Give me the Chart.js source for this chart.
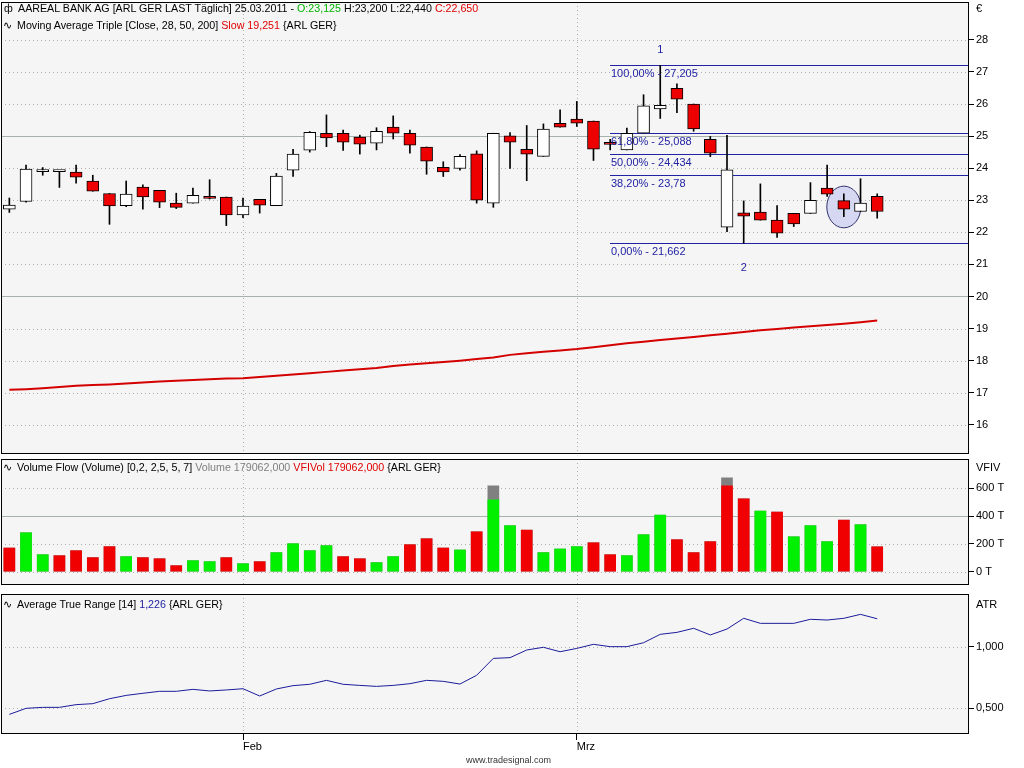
<!DOCTYPE html>
<html>
<head>
<meta charset="utf-8">
<script src="https://cdn.jsdelivr.net/npm/chart.js@4.4.1/dist/chart.umd.min.js"></script>
<style>
  body { margin: 0; background: #fff; width: 1024px; height: 768px; overflow: hidden; position: relative;
         font-family: "Liberation Sans", Arial, sans-serif; font-size: 11px; color: #000; }
  .pane { position: absolute; left: 0; width: 1024px; }
  .hdr { position: absolute; white-space: nowrap; line-height: 13px; font-size: 10.7px; }
  .unit { position: absolute; left: 976px; line-height: 13px; }
  .ic { display: inline-block; width: 14px; }
</style>
</head>
<body>
<div class="pane" style="top:2px;height:452px"><canvas id="priceChart" width="1024" height="452"></canvas></div>
<div class="pane" style="top:459px;height:126px"><canvas id="volChart" width="1024" height="126"></canvas></div>
<div class="pane" style="top:594px;height:174px"><canvas id="atrChart" width="1024" height="174"></canvas></div>

<div class="hdr" style="top:2px;left:4px"><span class="ic">ф</span>AAREAL BANK AG [ARL GER LAST Täglich] 25.03.2011 - <span style="color:#00b400">O:23,125</span> H:23,200 L:22,440 <span style="color:#e00000">C:22,650</span></div>
<div class="hdr" style="top:19px;left:3px"><span class="ic">∿</span>Moving Average Triple [Close, 28, 50, 200] <span style="color:#e00000">Slow 19,251</span> {ARL GER}</div>
<div class="unit" style="top:2px">€</div>

<div class="hdr" style="top:461px;left:3px"><span class="ic">∿</span>Volume Flow (Volume) [0,2, 2,5, 5, 7] <span style="color:#808080">Volume 179062,000</span> <span style="color:#e00000">VFIVol 179062,000</span> {ARL GER}</div>
<div class="unit" style="top:461px">VFIV</div>

<div class="hdr" style="top:598px;left:3px"><span class="ic">∿</span>Average True Range [14] <span style="color:#1c1ca0">1,226</span> {ARL GER}</div>
<div class="unit" style="top:598px">ATR</div>

<div class="hdr" style="top:754px;left:466px;font-size:9px;color:#333">www.tradesignal.com</div>

<script>
// Handelstage 12.01.2011 - 25.03.2011
const dates = ['12.01','13.01','14.01','17.01','18.01','19.01','20.01','21.01','24.01','25.01','26.01','27.01','28.01','31.01',
  '01.02','02.02','03.02','04.02','07.02','08.02','09.02','10.02','11.02','14.02','15.02','16.02','17.02','18.02','21.02','22.02','23.02','24.02','25.02','28.02',
  '01.03','02.03','03.03','04.03','07.03','08.03','09.03','10.03','11.03','14.03','15.03','16.03','17.03','18.03','21.03','22.03','23.03','24.03','25.03'];
const emptySlots = 5;
const monthIdx = [14, 34];
const monthNames = ['Feb', 'Mrz'];

const open = [22.72, 22.96, 23.89, 23.89, 23.88, 23.60, 23.21, 22.83, 23.41, 23.31, 22.91, 22.91, 23.10, 23.10,
  22.54, 23.03, 22.83, 23.94, 24.56, 25.09, 25.09, 24.97, 24.78, 25.28, 25.09, 24.66, 24.03, 23.99, 24.45, 22.91,
  25.01, 24.59, 24.37, 25.40, 25.53, 25.47, 24.78, 24.57, 25.09, 25.85, 26.49, 26.00, 24.90, 22.16, 22.61, 22.63,
  22.38, 22.59, 22.59, 23.38, 22.99, 22.65, 23.125];
const high = [23.07, 24.10, 24.02, 23.90, 24.10, 23.78, 23.21, 23.60, 23.48, 23.31, 23.22, 23.38, 23.64, 23.10,
  23.07, 23.03, 23.84, 24.59, 25.14, 25.66, 25.19, 25.03, 25.26, 25.63, 25.19, 24.66, 24.20, 24.42, 24.54, 25.09,
  25.11, 25.33, 25.38, 25.82, 26.08, 25.47, 24.90, 25.25, 26.29, 27.205, 26.63, 26.00, 24.99, 25.02, 22.98, 23.51,
  22.83, 22.59, 23.55, 24.10, 23.20, 23.67, 23.20];
const low = [22.62, 22.94, 23.78, 23.40, 23.53, 23.28, 22.25, 22.80, 22.72, 22.77, 22.74, 22.91, 23.04, 22.21,
  22.46, 22.60, 22.83, 23.74, 24.50, 24.67, 24.55, 24.44, 24.57, 24.91, 24.47, 23.81, 23.74, 23.94, 22.91, 22.78,
  23.99, 23.61, 24.37, 25.28, 25.30, 24.24, 24.57, 24.57, 25.09, 25.55, 25.73, 25.15, 24.36, 22.02, 21.662, 22.38,
  21.84, 22.18, 22.59, 23.12, 22.49, 22.65, 22.44];
const close = [22.85, 23.97, 23.89, 23.89, 23.72, 23.28, 22.82, 23.19, 23.10, 22.94, 22.78, 23.15, 23.06, 22.54,
  22.82, 22.85, 23.75, 24.44, 25.12, 24.94, 24.81, 24.75, 25.15, 25.09, 24.72, 24.22, 23.88, 24.37, 23.00, 25.09,
  24.81, 24.44, 25.22, 25.28, 25.40, 24.59, 24.74, 25.09, 25.94, 25.96, 26.15, 25.22, 24.47, 23.95, 22.50, 22.38,
  21.97, 22.26, 23.00, 23.19, 22.72, 22.91, 22.65];
// Moving Average 200 (Slow)
const ma200 = [17.09, 17.11, 17.14, 17.18, 17.22, 17.24, 17.26, 17.29, 17.32, 17.35, 17.37, 17.40, 17.42, 17.44,
  17.45, 17.49, 17.53, 17.57, 17.61, 17.65, 17.69, 17.73, 17.77, 17.83, 17.88, 17.92, 17.96, 18.00, 18.05, 18.10,
  18.18, 18.23, 18.28, 18.32, 18.36, 18.42, 18.48, 18.54, 18.59, 18.64, 18.69, 18.74, 18.79, 18.84, 18.89, 18.95,
  18.99, 19.03, 19.07, 19.11, 19.15, 19.20, 19.251];

// Volumen in Tausend
const volume = [170, 280, 122, 115, 151, 101, 180, 108, 101, 93, 43, 79, 72, 101, 57, 72, 137, 201, 151, 187,
  108, 93, 65, 108, 194, 237, 170, 156, 287, 618, 331, 299, 137, 163, 180, 208, 122, 115, 266, 407,
  230, 137, 216, 675, 525, 436, 429, 251, 331, 216, 371, 338, 179];
const vfiVol = [170, 280, 122, 115, 151, 101, 180, 108, 101, 93, 43, 79, 72, 101, 57, 72, 137, 201, 151, 187,
  108, 93, 65, 108, 194, 237, 170, 156, 287, 517, 331, 299, 137, 163, 180, 208, 122, 115, 266, 407,
  230, 137, 216, 618, 525, 436, 429, 251, 331, 216, 371, 338, 179];
const volUp = [0, 1, 1, 0, 0, 0, 0, 1, 0, 0, 0, 1, 1, 0, 1, 0, 1, 1, 1, 1,
  0, 0, 1, 1, 0, 0, 0, 1, 0, 1, 1, 0, 1, 1, 1, 0, 0, 1, 1, 1,
  0, 0, 0, 0, 0, 1, 0, 1, 1, 1, 0, 1, 0];

const atr = [0.451, 0.500, 0.508, 0.508, 0.530, 0.538, 0.578, 0.605, 0.622, 0.638, 0.638, 0.654, 0.641, 0.649,
  0.659, 0.600, 0.657, 0.684, 0.695, 0.727, 0.695, 0.686, 0.678, 0.686, 0.700, 0.727, 0.719, 0.697, 0.768, 0.905,
  0.911, 0.973, 0.995, 0.959, 0.986, 1.019, 1.000, 1.000, 1.032, 1.100, 1.116, 1.149, 1.095, 1.143, 1.230, 1.189,
  1.189, 1.189, 1.222, 1.216, 1.230, 1.262, 1.226];

const priceTicks = [16, 17, 18, 19, 20, 21, 22, 23, 24, 25, 26, 27, 28];
const volTicks = [0, 200, 400, 600];
const atrTicks = [0.5, 1.0];

// Fibonacci Retracement
const fibStart = 36;
const fibLevels = [27.205, 25.088, 24.434, 23.78, 21.662];
const fibLabels = ['100,00% - 27,205', '61,80% - 25,088', '50,00% - 24,434', '38,20% - 23,78', '0,00% - 21,662'];
const swingIdx = [39, 44];
const swingText = ['1', '2'];

const labels = dates.concat(Array(emptySlots).fill(''));
const FONT = '"Liberation Sans", Arial, sans-serif';
Chart.defaults.font.family = FONT;
Chart.defaults.font.size = 11;
Chart.defaults.color = '#000';

function hline(ctx, x1, y, x2) { ctx.beginPath(); ctx.moveTo(x1, y); ctx.lineTo(x2, y); ctx.stroke(); }
function vline(ctx, x, y1, y2) { ctx.beginPath(); ctx.moveTo(x, y1); ctx.lineTo(x, y2); ctx.stroke(); }

// Hintergrund, Gitter und Rahmen der Teilfenster
const panelPlugin = {
  id: 'panel',
  beforeDraw(chart) {
    const { ctx, chartArea: a } = chart;
    ctx.save();
    ctx.fillStyle = '#f5f5f5';
    ctx.fillRect(a.left, a.top, a.right - a.left, a.bottom - a.top);
    ctx.restore();
  },
  beforeDatasetsDraw(chart, args, opts) {
    const { ctx, chartArea: a, scales } = chart;
    ctx.save();
    ctx.lineWidth = 1;
    ctx.strokeStyle = '#b0b0b0';
    ctx.setLineDash([1, 3]);
    (opts.dotted || []).forEach(v => hline(ctx, a.left, Math.round(scales.y.getPixelForValue(v)) + 0.5, a.right));
    monthIdx.forEach(i => vline(ctx, Math.round(scales.x.getPixelForValue(i)) + 0.5, a.top, a.bottom));
    ctx.setLineDash([]);
    ctx.strokeStyle = '#a8b2ac';
    (opts.solid || []).forEach(v => hline(ctx, a.left, Math.round(scales.y.getPixelForValue(v)) + 0.5, a.right));
    ctx.restore();
  },
  afterDraw(chart) {
    const { ctx, chartArea: a } = chart;
    ctx.save();
    ctx.strokeStyle = '#000';
    ctx.lineWidth = 1;
    ctx.strokeRect(a.left + 0.5, a.top + 0.5, a.right - a.left - 1, a.bottom - a.top - 1);
    ctx.restore();
  }
};

// Fibonacci-Linien, Markierungen 1/2 und Ellipse
const fibPlugin = {
  id: 'fib',
  beforeDatasetsDraw(chart) {
    const { ctx, chartArea: a, scales: { x, y } } = chart;
    ctx.save();
    // Ellipse um die vorletzten Kerzen
    const cx = x.getPixelForValue(50);
    const cy = y.getPixelForValue(22.79);
    const rx = (x.getPixelForValue(51) - cx) * 1.02;
    const ry = y.getPixelForValue(22.79 - 0.65) - cy;
    ctx.beginPath();
    ctx.ellipse(cx, cy, rx, ry, 0, 0, Math.PI * 2);
    ctx.fillStyle = '#d6d7f0';
    ctx.fill();
    ctx.strokeStyle = '#33336e';
    ctx.lineWidth = 1;
    ctx.stroke();
    ctx.strokeStyle = '#2222a4';
    const x0 = Math.round(x.getPixelForValue(fibStart));
    fibLevels.forEach(v => hline(ctx, x0, Math.round(y.getPixelForValue(v)) + 0.5, a.right));
    ctx.restore();
  },
  afterDatasetsDraw(chart) {
    const { ctx, scales: { x, y } } = chart;
    ctx.save();
    ctx.fillStyle = '#2222a4';
    ctx.font = '11px ' + FONT;
    ctx.textBaseline = 'middle';
    ctx.textAlign = 'left';
    const x0 = Math.round(x.getPixelForValue(fibStart)) + 1;
    fibLevels.forEach((v, i) => ctx.fillText(fibLabels[i], x0, y.getPixelForValue(v) + 9));
    ctx.textAlign = 'center';
    ctx.fillText(swingText[0], x.getPixelForValue(swingIdx[0]), y.getPixelForValue(high[swingIdx[0]]) - 15);
    ctx.fillText(swingText[1], x.getPixelForValue(swingIdx[1]), y.getPixelForValue(low[swingIdx[1]]) + 25);
    ctx.restore();
  }
};

function yAxis(min, max, ticks, fmt) {
  return {
    position: 'right',
    min: min,
    max: max,
    afterBuildTicks: s => { s.ticks = ticks.map(v => ({ value: v })); },
    afterFit: s => { s.width = 55; s.paddingTop = 0; s.paddingBottom = 0; },
    grid: { drawOnChartArea: false, drawTicks: true, tickLength: 5, color: '#000', tickColor: '#000' },
    border: { display: false },
    ticks: { padding: 2, color: '#000', callback: fmt }
  };
}

const hiddenX = { display: false, offset: true };

new Chart(document.getElementById('priceChart'), {
  type: 'bar',
  data: {
    labels: labels,
    datasets: [
      {
        label: 'Kerze',
        data: open.map((o, i) => [o, close[i]]),
        grouped: false,
        barThickness: 12,
        minBarLength: 2,
        borderWidth: 1,
        borderColor: '#000',
        borderSkipped: false,
        backgroundColor: c => (close[c.dataIndex] >= open[c.dataIndex] ? '#ffffff' : '#ee0000'),
        order: 0
      },
      {
        label: 'Docht',
        data: low.map((l, i) => [l, high[i]]),
        grouped: false,
        barThickness: 1,
        backgroundColor: '#000',
        order: 1
      },
      {
        type: 'line',
        label: 'Slow',
        data: ma200,
        borderColor: '#d40000',
        borderWidth: 2,
        pointRadius: 0,
        order: 2
      }
    ]
  },
  options: {
    responsive: false,
    animation: false,
    layout: { padding: { left: 1, right: 0, top: 0, bottom: 0 } },
    plugins: {
      legend: { display: false },
      tooltip: { enabled: false },
      panel: { dotted: priceTicks, solid: [25, 20] }
    },
    scales: {
      x: hiddenX,
      y: yAxis(15.09, 29.18, priceTicks, v => String(v))
    }
  },
  plugins: [panelPlugin, fibPlugin]
});

new Chart(document.getElementById('volChart'), {
  type: 'bar',
  data: {
    labels: labels,
    datasets: [
      {
        label: 'VFIVol',
        data: vfiVol,
        grouped: false,
        barThickness: 11,
        backgroundColor: vfiVol.map((v, i) => (volUp[i] ? '#00f000' : '#f00000')),
        order: 0
      },
      {
        label: 'Volume',
        data: volume,
        grouped: false,
        barThickness: 11,
        backgroundColor: '#808080',
        order: 1
      }
    ]
  },
  options: {
    responsive: false,
    animation: false,
    layout: { padding: { left: 1, right: 0, top: 0, bottom: 0 } },
    plugins: {
      legend: { display: false },
      tooltip: { enabled: false },
      panel: { dotted: [0, 200, 600], solid: [400] }
    },
    scales: {
      x: hiddenX,
      y: yAxis(-96, 811, volTicks, v => v + ' T')
    }
  },
  plugins: [panelPlugin]
});

new Chart(document.getElementById('atrChart'), {
  type: 'line',
  data: {
    labels: labels,
    datasets: [{
      label: 'ATR',
      data: atr,
      borderColor: '#1c1c9c',
      borderWidth: 1,
      pointRadius: 0
    }]
  },
  options: {
    responsive: false,
    animation: false,
    layout: { padding: { left: 1, right: 0, top: 0, bottom: 0 } },
    plugins: {
      legend: { display: false },
      tooltip: { enabled: false },
      panel: { dotted: atrTicks, solid: [] }
    },
    scales: {
      x: {
        offset: true,
        afterFit: s => { s.height = 34; s.paddingLeft = 0; s.paddingRight = 0; },
        border: { display: false },
        grid: {
          drawOnChartArea: false,
          drawTicks: true,
          tickLength: 6,
          color: c => (monthIdx.includes(c.index) ? '#000' : 'rgba(0,0,0,0)'),
          tickColor: c => (monthIdx.includes(c.index) ? '#000' : 'rgba(0,0,0,0)')
        },
        ticks: {
          autoSkip: false,
          maxRotation: 0,
          minRotation: 0,
          align: 'start',
          padding: 0,
          color: '#000',
          callback: (v, i) => {
            const k = monthIdx.indexOf(i);
            return k >= 0 ? monthNames[k] : '';
          }
        }
      },
      y: yAxis(0.292, 1.427, atrTicks, v => v.toFixed(3).replace('.', ','))
    }
  },
  plugins: [panelPlugin]
});
</script>
</body>
</html>
